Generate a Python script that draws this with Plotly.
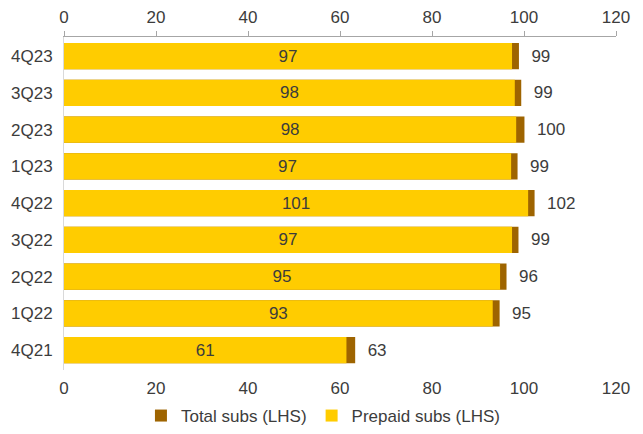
import plotly.graph_objects as go

quarters = ["4Q21", "1Q22", "2Q22", "3Q22", "4Q22", "1Q23", "2Q23", "3Q23", "4Q23"]
total_subs = [63.3, 94.7, 96.2, 98.8, 102.3, 98.6, 100.1, 99.4, 98.9]
prepaid_subs = [61.4, 93.2, 94.8, 97.4, 100.9, 97.2, 98.3, 98.0, 97.4]
x_ticks = [0, 20, 40, 60, 80, 100, 120]

FONT = "Liberation Sans, Arial, sans-serif"
TXT = "#3c3c3c"
BROWN = "#9E6400"
YELLOW = "#FFCC00"
FS = 17

fig = go.Figure()
fig.add_trace(go.Bar(
    y=quarters, x=total_subs, orientation="h", name="Total subs (LHS)",
    marker=dict(color=BROWN, line=dict(width=0)), width=0.71,
    texttemplate="  %{x:.0f}", textposition="outside", textangle=0,
    constraintext="none",
    textfont=dict(size=FS, color=TXT, family=FONT), cliponaxis=False,
))
fig.add_trace(go.Bar(
    y=quarters, x=prepaid_subs, orientation="h", name="Prepaid subs (LHS)",
    marker=dict(color=YELLOW, line=dict(width=0)), width=0.71,
    texttemplate="%{x:.0f}", textposition="inside", insidetextanchor="middle",
    textangle=0, constraintext="none",
    textfont=dict(size=FS, color=TXT, family=FONT),
))
fig.add_trace(go.Scatter(
    x=[x_ticks[0], x_ticks[-1]], y=[quarters[0], quarters[0]], xaxis="x2",
    mode="markers", marker=dict(opacity=0), showlegend=False, hoverinfo="skip",
))

fig.update_layout(
    width=643, height=434,
    margin=dict(l=64, r=27, t=37, b=64),
    paper_bgcolor="white", plot_bgcolor="white",
    barmode="overlay",
    font=dict(family=FONT, size=FS, color=TXT),
    xaxis=dict(
        side="top", range=[0, 120], tickvals=x_ticks, showgrid=False, zeroline=False,
        showline=True, linecolor="#a6a6a6", linewidth=1,
        ticks="outside", ticklen=5, tickcolor="#a6a6a6",
        ticklabelstandoff=1, automargin=False,
        tickfont=dict(size=FS, color=TXT),
    ),
    xaxis2=dict(
        overlaying="x", side="bottom", range=[0, 120], tickvals=x_ticks,
        showgrid=False, zeroline=False, showline=False, ticks="",
        ticklabelstandoff=6, automargin=False,
        tickfont=dict(size=FS, color=TXT),
    ),
    yaxis=dict(
        type="category", categoryorder="array", categoryarray=quarters,
        range=[-0.54, 8.52], showgrid=False, zeroline=False,
        showline=True, linecolor="#d9d9d9", linewidth=1, ticks="",
        ticklabelstandoff=7, automargin=False,
        tickfont=dict(size=FS, color=TXT),
    ),
    showlegend=True,
    legend=dict(
        orientation="h", x=0.47, xanchor="center",
        yref="container", y=18 / 434, yanchor="middle",
        bgcolor="rgba(0,0,0,0)",
        font=dict(size=FS, color=TXT), traceorder="normal",
        itemwidth=30,
    ),
)

fig.write_html("out.html")
